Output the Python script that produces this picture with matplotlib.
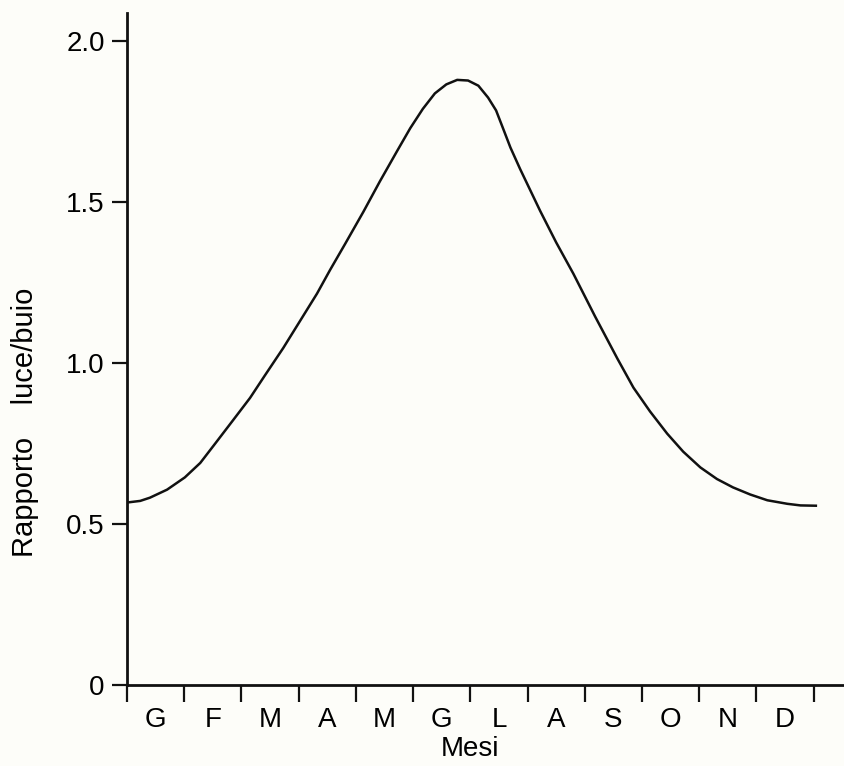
import numpy as np
import matplotlib
matplotlib.use('Agg')
import matplotlib.pyplot as plt
from matplotlib.ticker import FixedLocator, NullFormatter

# DATA (x in months from start of January)
mesi = ['G', 'F', 'M', 'A', 'M', 'G', 'L', 'A', 'S', 'O', 'N', 'D']
mese_x = [0.00, 0.23, 0.40, 0.70, 1.01, 1.28, 1.54, 1.85, 2.15, 2.41, 2.73,
          3.02, 3.32, 3.55, 3.81, 4.13, 4.42, 4.72, 4.95, 5.17, 5.38, 5.58,
          5.77, 5.96, 6.14, 6.31, 6.45, 6.57, 6.70, 6.87, 7.22, 7.50, 7.80,
          8.18, 8.57, 8.85, 9.14, 9.44, 9.72, 10.02, 10.31, 10.59, 10.89,
          11.19, 11.54, 11.77, 12.06]
rapporto = [0.567, 0.572, 0.582, 0.607, 0.645, 0.690, 0.750, 0.822, 0.892,
            0.962, 1.047, 1.130, 1.216, 1.290, 1.370, 1.470, 1.565, 1.659,
            1.730, 1.790, 1.838, 1.866, 1.880, 1.878, 1.862, 1.825, 1.785,
            1.730, 1.670, 1.603, 1.473, 1.375, 1.278, 1.145, 1.014, 0.924,
            0.850, 0.781, 0.725, 0.676, 0.640, 0.614, 0.592, 0.574, 0.563,
            0.558, 0.557]
y_ticks = [0, 0.5, 1.0, 1.5, 2.0]
y_tick_labels = ['0', '0.5', '1.0', '1.5', '2.0']

plt.rcParams['font.family'] = ['Liberation Sans', 'DejaVu Sans']
bg = '#fdfdf9'

fig = plt.figure(figsize=(8.44, 7.66), dpi=100, facecolor=bg)
ax = fig.add_axes([0.1505, 0.1057, 0.8495, 0.877], facecolor=bg)

ax.plot(mese_x, rapporto, color='#111111', lw=1.8,
        solid_joinstyle='round', solid_capstyle='butt')

ax.set_xlim(0, 12.53)
ax.set_ylim(0, 2.087)

for s in ['top', 'right']:
    ax.spines[s].set_visible(False)
for s in ['left', 'bottom']:
    ax.spines[s].set_linewidth(2.0)
    ax.spines[s].set_color('#111111')

# y axis ticks
ax.set_yticks(y_ticks)
ax.set_yticklabels(y_tick_labels)
ax.tick_params(axis='y', direction='out', length=11, width=1.6,
               labelsize=20, pad=5, color='#111111')

# x axis: boundaries as minor ticks, month names centred between them
ax.xaxis.set_minor_locator(FixedLocator(np.arange(0, 13)))
ax.xaxis.set_minor_formatter(NullFormatter())
ax.set_xticks(np.arange(12) + 0.5)
ax.set_xticklabels(mesi)
ax.tick_params(axis='x', which='major', length=0, labelsize=20, pad=16)
ax.tick_params(axis='x', which='minor', direction='out', length=12,
               width=1.6, color='#111111')

ax.text(6, -0.2, 'Mesi', ha='center', va='center', fontsize=20,
        transform=ax.transData)
fig.text(0.030, 0.449, 'Rapporto    luce/buio', rotation=90, ha='center',
         va='center', fontsize=21)

fig.savefig('out.png', dpi=100, facecolor=bg)
